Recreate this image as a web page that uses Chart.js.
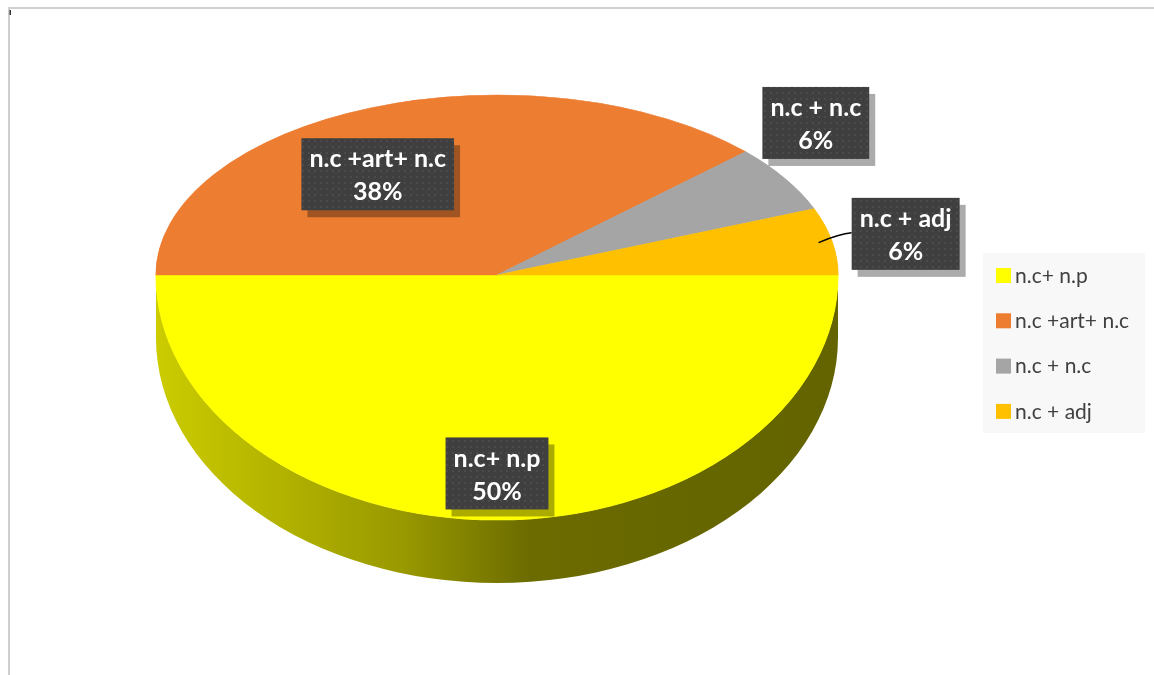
<!DOCTYPE html>
<html>
<head>
  <meta charset="UTF-8">
  <title>Structures</title>
  <script src="https://cdn.jsdelivr.net/npm/chart.js"></script>
  <style>
    html, body { margin: 0; padding: 0; background: #fff; }
    canvas { display: block; }
  </style>
</head>
<body>
  <canvas id="pieChart" width="1154" height="675"></canvas>

  <script>
    // slices
    const labels = ['n.c+ n.p', 'n.c +art+ n.c', 'n.c + n.c', 'n.c + adj'];
    const shares = [50, 38, 6, 6];
    const colors = ['#FFFF00', '#ED7D31', '#A5A5A5', '#FFC000'];

    // where each value box sits: radius as a fraction of the pie, turn in degrees from the slice middle
    const labelRadius = [0.81, 0.66, 1.26, 1.22];
    const labelTurn = [0, -10.4, -9.7, 0];
    const labelLeader = [false, false, false, true];

    // tilted pie: far half flatter than the near half, plus a side wall
    const CX = 497, CY = 275, RX = 341, RY_FAR = 180, RY_NEAR = 245, DEPTH = 63;

    function rgb(hex) {
      const n = parseInt(hex.slice(1), 16);
      return [(n >> 16) & 255, (n >> 8) & 255, n & 255];
    }
    function shade(hex, f) {
      const c = rgb(hex).map(v => Math.round(v * f));
      return `rgb(${c[0]},${c[1]},${c[2]})`;
    }
    function norm(a) {
      const t = Math.PI * 2;
      return ((a % t) + t) % t;
    }
    function ellipsePoint(theta, r) {
      const s = Math.sin(theta);
      return {
        x: CX + RX * r * Math.cos(theta),
        y: CY + (s > 0 ? RY_NEAR : RY_FAR) * r * s
      };
    }

    // dotted fill for the value boxes
    function boxPattern(ctx) {
      const c = document.createElement('canvas');
      c.width = 6; c.height = 6;
      const p = c.getContext('2d');
      p.fillStyle = '#3f3f3f';
      p.fillRect(0, 0, 6, 6);
      p.fillStyle = '#4b4b4b';
      p.fillRect(2, 2, 2, 2);
      return ctx.createPattern(c, 'repeat');
    }

    function drawValueBoxes(chart) {
      const ctx = chart.ctx;
      const arcs = chart.getDatasetMeta(0).data;
      const fill = boxPattern(ctx);
      const total = shares.reduce((s, v) => s + v, 0);

      arcs.forEach((arc, i) => {
        const mid = (arc.startAngle + arc.endAngle) / 2;
        const theta = mid + labelTurn[i] * Math.PI / 180;
        const p = ellipsePoint(theta, labelRadius[i]);
        const pct = Math.round(shares[i] / total * 100) + '%';

        ctx.save();
        ctx.font = 'bold 25px Lato';
        const w = Math.max(ctx.measureText(labels[i]).width, ctx.measureText(pct).width) + 16;
        const hgt = 72;
        const bx = p.x - w / 2, by = p.y - hgt / 2;

        if (labelLeader[i]) {
          const q = ellipsePoint(mid, 0.96);
          ctx.strokeStyle = '#000';
          ctx.lineWidth = 1.5;
          ctx.beginPath();
          ctx.moveTo(q.x, q.y);
          ctx.quadraticCurveTo(bx - 12, p.y, bx, p.y - 1);
          ctx.stroke();
        }

        ctx.shadowColor = 'rgba(0,0,0,0.33)';
        ctx.shadowOffsetX = 6;
        ctx.shadowOffsetY = 7;
        ctx.fillStyle = fill;
        ctx.fillRect(bx, by, w, hgt);
        ctx.shadowColor = 'transparent';

        ctx.fillStyle = '#fff';
        ctx.textAlign = 'center';
        ctx.textBaseline = 'middle';
        ctx.fillText(labels[i], p.x, p.y - 15);
        ctx.fillText(pct, p.x, p.y + 18);
        ctx.restore();
      });
    }

    function drawLegend(chart) {
      const ctx = chart.ctx;
      ctx.save();
      ctx.fillStyle = '#f8f8f8';
      ctx.fillRect(983, 253, 162, 180);
      ctx.font = '21px Lato';
      ctx.textBaseline = 'middle';
      labels.forEach((name, i) => {
        const y = 275 + i * 45.3;
        ctx.fillStyle = colors[i];
        ctx.fillRect(996, y - 7, 15, 15);
        ctx.fillStyle = '#404040';
        ctx.fillText(name, 1015, y + 1);
      });
      ctx.restore();
    }

    const tiltPlugin = {
      id: 'tilt',
      beforeDraw(chart) {
        const ctx = chart.ctx;
        ctx.save();
        ctx.strokeStyle = '#cfcfcf';
        ctx.lineWidth = 2;
        ctx.beginPath();
        ctx.moveTo(9, chart.height);
        ctx.lineTo(9, 8);
        ctx.lineTo(chart.width, 8);
        ctx.stroke();
        ctx.fillStyle = '#333';
        ctx.fillRect(9.5, 10, 1.5, 5);
        ctx.restore();
      },
      beforeDatasetsDraw(chart) {
        const ctx = chart.ctx;
        const arcs = chart.getDatasetMeta(0).data;
        const R = arcs[0].outerRadius;
        const ox = arcs[0].x, oy = arcs[0].y;

        // side wall of the front half
        arcs.forEach((arc, i) => {
          const s = norm(arc.startAngle), e = s + (arc.endAngle - arc.startAngle);
          const a = Math.max(s, 0), b = Math.min(e, Math.PI);
          if (b <= a) return;
          const g = ctx.createLinearGradient(CX - RX, 0, CX + RX, 0);
          const col = colors[i];
          g.addColorStop(0, shade(col, 0.8));
          g.addColorStop(0.36, shade(col, 0.6));
          g.addColorStop(0.55, shade(col, 0.42));
          g.addColorStop(1, shade(col, 0.39));
          ctx.save();
          ctx.fillStyle = g;
          ctx.beginPath();
          ctx.ellipse(CX, CY, RX, RY_NEAR, 0, a, b, false);
          ctx.ellipse(CX, CY + DEPTH, RX, RY_NEAR, 0, b, a, true);
          ctx.closePath();
          ctx.fill();
          ctx.restore();
        });

        // top face, drawn twice with different vertical squash
        const halves = [
          { y0: CY, y1: chart.height, ry: RY_NEAR },
          { y0: 0, y1: CY + 0.5, ry: RY_FAR }
        ];
        halves.forEach(h => {
          ctx.save();
          ctx.beginPath();
          ctx.rect(0, h.y0, chart.width, h.y1 - h.y0);
          ctx.clip();
          ctx.translate(CX, CY);
          ctx.scale(RX / R, h.ry / R);
          ctx.translate(-ox, -oy);
          arcs.forEach(a => a.draw(ctx));
          ctx.restore();
        });
        return false;
      },
      afterDraw(chart) {
        drawValueBoxes(chart);
        drawLegend(chart);
      }
    };

    new Chart(document.getElementById('pieChart'), {
      type: 'pie',
      data: {
        labels: labels,
        datasets: [{
          data: shares,
          backgroundColor: colors,
          borderColor: colors,
          borderWidth: 1
        }]
      },
      options: {
        responsive: false,
        animation: false,
        rotation: 90,
        plugins: {
          legend: { display: false },
          tooltip: { enabled: false }
        }
      },
      plugins: [tiltPlugin]
    });
  </script>
</body>
</html>
